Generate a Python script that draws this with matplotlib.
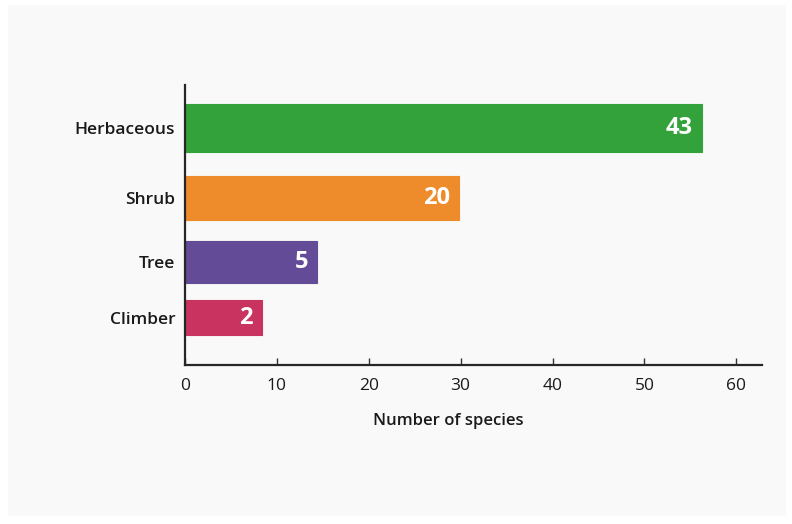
import matplotlib
matplotlib.use("Agg")
import matplotlib.pyplot as plt
from matplotlib.patches import Rectangle

# ---- data ----
categories = ["Herbaceous", "Shrub", "Tree", "Climber"]
bar_lengths = [56.3, 29.8, 14.4, 8.4]
value_labels = ["43", "20", "5", "2"]
colors = ["#34a23b", "#ee8b2b", "#634b98", "#c8335f"]
x_ticks = [0, 10, 20, 30, 40, 50, 60]

# ---- layout (pixel-based y layout) ----
bar_centers = [128, 198, 262, 317.5]
bar_heights = [48, 44, 42, 35]

W, H = 792, 524
fig = plt.figure(figsize=(W / 100, H / 100), dpi=100, facecolor="white")
fig.patches.append(Rectangle((8 / W, 1 - 516 / H), (786 - 8) / W, (516 - 5) / H,
                             transform=fig.transFigure, facecolor="#f9f9f9",
                             edgecolor="none", zorder=-10))

left, right, top, bottom = 185, 762, 85, 365
ax = fig.add_axes([left / W, 1 - bottom / H, (right - left) / W, (bottom - top) / H])
ax.set_facecolor("none")

font = "Open Sans"
ax.barh(bar_centers, bar_lengths, height=bar_heights, color=colors,
        edgecolor=colors, linewidth=0.8, zorder=2)
for c, L, lab in zip(bar_centers, bar_lengths, value_labels):
    ax.text(L - 1.0, c, lab, ha="right", va="center", color="white",
            fontsize=17, fontweight="bold", family=font, zorder=3)

ax.set_ylim(bottom, top)
ax.set_xlim(0, 62.8)
ax.set_yticks(bar_centers)
ax.set_yticklabels(categories, family=font, fontsize=12.5, fontweight="semibold", color="#1a1a1a")
ax.set_xticks(x_ticks)
ax.set_xticklabels([str(t) for t in x_ticks], family=font, fontsize=12.5, color="#1a1a1a")
ax.tick_params(axis="y", length=0, pad=7)
ax.tick_params(axis="x", length=5, width=1, direction="in", pad=9, color="#333333")
for s in ["top", "right"]:
    ax.spines[s].set_visible(False)
for s in ["left", "bottom"]:
    ax.spines[s].set_color("#262626")
    ax.spines[s].set_linewidth(1.6)

ax.set_xlabel("Number of species", family=font, fontsize=12, fontweight="semibold",
              color="#1a1a1a")
ax.xaxis.set_label_coords(0.456, -0.172)

fig.savefig("out.png", dpi=100, facecolor="white")
